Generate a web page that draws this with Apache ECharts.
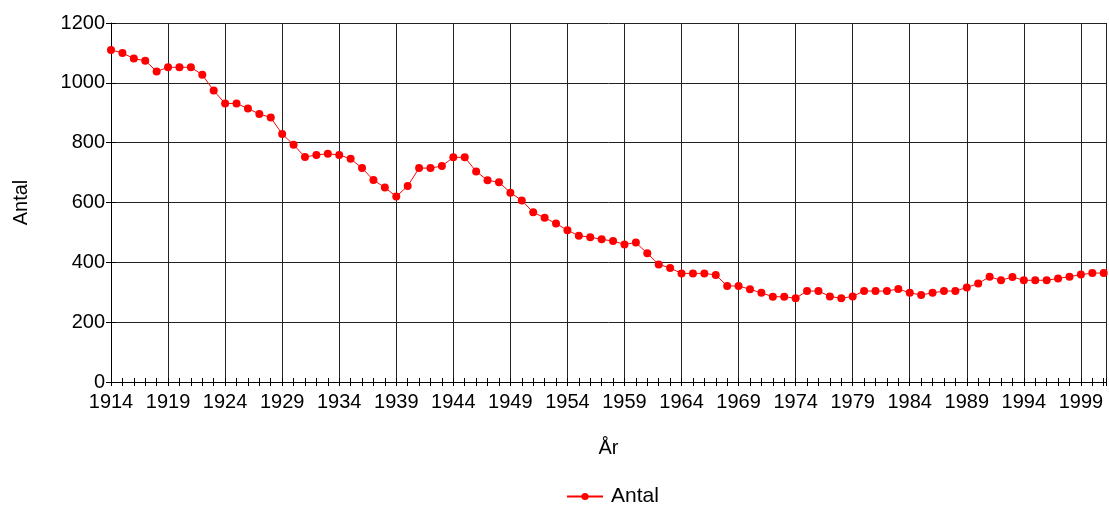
<!DOCTYPE html>
<html>
<head>
<meta charset="utf-8">
<script src="https://cdn.jsdelivr.net/npm/echarts@6/dist/echarts.min.js"></script>
<style>
  html, body { margin: 0; padding: 0; background: #fff; }
  #chart { width: 1109px; height: 506px; }
</style>
</head>
<body>
<div id="chart"></div>
<script>
// år 1914-2001
var years = [];
for (var y = 1914; y <= 2001; y++) years.push(y);

var antal = [
  1110, 1100, 1081, 1074, 1038, 1052, 1052, 1052, 1027, 974,
  931, 931, 914, 896, 884, 829, 793, 752, 759, 763,
  759, 746, 715, 675, 650, 620, 655, 715, 715, 722,
  751, 751, 704, 674, 668, 633, 607, 567, 549, 530,
  507, 489, 484, 477, 471, 460, 466, 430, 393, 381,
  363, 363, 363, 358, 321, 321, 310, 298, 285, 285,
  280, 304, 304, 286, 280, 286, 304, 304, 304, 311,
  298, 291, 298, 304, 304, 316, 329, 352, 340, 351,
  340, 340, 340, 346, 352, 359, 364, 364
];

var yTicks = [0, 200, 400, 600, 800, 1000, 1200];

var xMin = 1914, xMax = 2001.2;
var font = 'Liberation Sans, Arial, sans-serif';
var chart = echarts.init(document.getElementById('chart'));

var points = years.map(function (yr, i) { return [yr, antal[i]]; });

var option = {
  animation: false,
  grid: { left: 111, top: 23, right: 0, bottom: 124, containLabel: false },
  legend: {
    top: 481,
    left: 561,
    itemWidth: 36,
    itemHeight: 9,
    itemGap: 10,
    textStyle: { fontFamily: font, fontSize: 21, color: '#000', padding: [0, 0, 0, 3] },
    data: ['Antal']
  },
  xAxis: [{
    // etiketter och stödlinjer var femte år
    type: 'value',
    min: xMin,
    max: xMax,
    interval: 5,
    name: 'År',
    nameLocation: 'middle',
    nameGap: 56,
    nameTextStyle: { fontFamily: font, fontSize: 20, color: '#000' },
    axisLine: { lineStyle: { color: '#000', width: 1 } },
    axisTick: { show: false },
    axisLabel: {
      margin: 10, fontFamily: font, fontSize: 20, color: '#000',
      formatter: function (v) { return (v - xMin) % 5 === 0 ? String(v) : ''; }
    },
    splitLine: { show: true, lineStyle: { color: '#222', width: 1 } }
  }, {
    // årsmarkeringar nedåt
    type: 'value',
    min: xMin,
    max: xMax,
    interval: 1,
    position: 'bottom',
    axisLine: { show: false },
    axisTick: { show: true, length: 4, lineStyle: { color: '#000' } },
    axisLabel: { show: false },
    splitLine: { show: false }
  }, {
    // årsmarkeringar uppåt
    type: 'value',
    min: xMin,
    max: xMax,
    interval: 1,
    position: 'bottom',
    axisLine: { show: false },
    axisTick: { show: true, inside: true, length: 4, lineStyle: { color: '#000' } },
    axisLabel: { show: false },
    splitLine: { show: false }
  }],
  yAxis: [{
    type: 'value',
    min: 0,
    max: 1200,
    interval: 200,
    name: 'Antal',
    nameLocation: 'middle',
    nameGap: 80,
    nameTextStyle: { fontFamily: font, fontSize: 20, color: '#000' },
    axisLine: { show: true, lineStyle: { color: '#000', width: 1 } },
    axisTick: { show: true, length: 5, lineStyle: { color: '#000' } },
    axisLabel: {
      margin: 6, fontFamily: font, fontSize: 20, color: '#000',
      formatter: function (v) { return yTicks.indexOf(v) >= 0 ? String(v) : ''; }
    },
    splitLine: { show: true, lineStyle: { color: '#222', width: 1 } }
  }, {
    type: 'value',
    min: 0,
    max: 1200,
    interval: 200,
    position: 'left',
    axisLine: { show: false },
    axisTick: { show: true, inside: true, length: 5, lineStyle: { color: '#000' } },
    axisLabel: { show: false },
    splitLine: { show: false }
  }],
  series: [{
    name: 'Antal',
    type: 'line',
    xAxisIndex: 0,
    yAxisIndex: 0,
    data: points,
    symbol: 'circle',
    symbolSize: 8,
    showAllSymbol: true,
    itemStyle: { color: '#ff0000' },
    lineStyle: { color: '#ff0000', width: 1 }
  }]
};

chart.setOption(option);
</script>
</body>
</html>
